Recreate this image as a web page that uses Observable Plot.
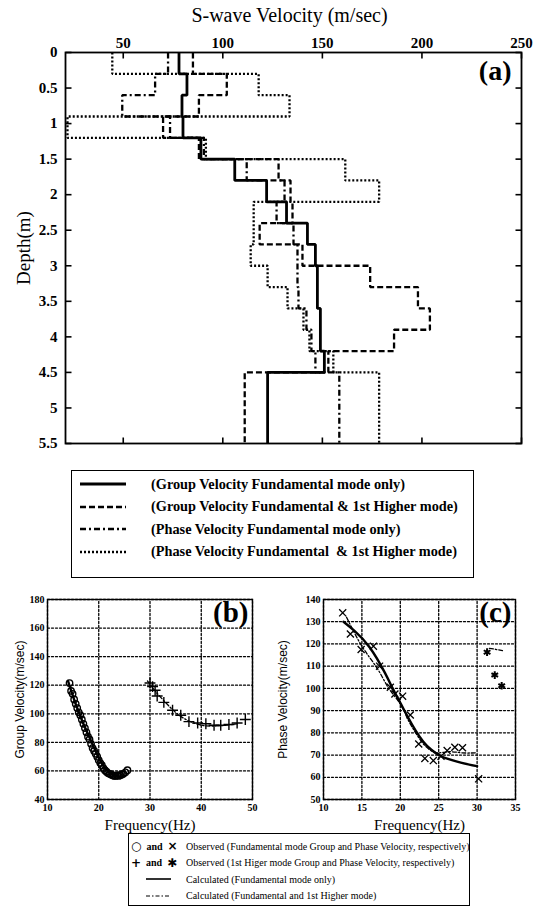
<!DOCTYPE html>
<html>
<head>
<meta charset="utf-8">
<script src="https://cdn.jsdelivr.net/npm/d3@7"></script>
<script src="https://cdn.jsdelivr.net/npm/@observablehq/plot@0.6"></script>
<style>
  body { margin: 0; background: #fff; }
  #fig { position: relative; width: 544px; height: 910px; font-family: "Liberation Serif", "DejaVu Serif", serif; color: #000; }
  #fig > * { position: absolute; }
  .box { border: 1.5px solid #000; box-sizing: border-box; background: #fff; }
  .row { position: absolute; white-space: nowrap; display: flex; align-items: center; }
</style>
</head>
<body>
<div id="fig"></div>
<script>
// ---- (a) inverted S-wave velocity profiles: 15 layers of 0.3 m over a half-space ----
const layerTops    = [0, 0.3, 0.6, 0.9, 1.2, 1.5, 1.8, 2.1, 2.4, 2.7, 3.0, 3.3, 3.6, 3.9, 4.2, 4.5];
const layerBottoms = [0.3, 0.6, 0.9, 1.2, 1.5, 1.8, 2.1, 2.4, 2.7, 3.0, 3.3, 3.6, 3.9, 4.2, 4.5, 5.5];
const vsGroupFund        = [78, 82, 79.5, 80, 89, 106, 122, 132, 142.5, 146.5, 147.5, 147.5, 149, 149, 151, 122.5];
const vsGroupFundHigher  = [85, 102, 88, 70, 88, 128, 134, 135, 118.5, 140, 174, 198, 204, 186, 153, 111];
const vsPhaseFund        = [72.5, 66, 49.5, 73.5, 90.5, 112, 131, 127, 135.5, 137.5, 137.5, 138, 142, 144.5, 146.5, 158.5];
const vsPhaseFundHigher  = [44.5, 118, 133.5, 22, 91.5, 161.5, 178.5, 115.5, 115.5, 114, 122.5, 132.5, 140.5, 143.5, 155.5, 178.5];
const velocityDomain = [21, 250];
const depthDomain = [0, 5.5];
const velocityTicks = [50, 100, 150, 200, 250];
const depthTicks = [0, 0.5, 1, 1.5, 2, 2.5, 3, 3.5, 4, 4.5, 5, 5.5];
const profileNames = [
  "(Group Velocity Fundamental mode only)",
  "(Group Velocity Fundamental & 1st Higher mode)",
  "(Phase Velocity Fundamental mode only)",
  "(Phase Velocity Fundamental  & 1st Higher mode)"
];

// ---- (b) group velocity dispersion ----
const obsGroupFundFreq = [14.3, 14.6, 14.9, 15.2, 15.5, 15.8, 16.1, 16.4, 16.7, 17.0, 17.3, 17.6, 17.9, 18.2, 18.5, 18.8, 19.1, 19.4, 19.7, 20.0, 20.3, 20.6, 20.9, 21.2, 21.5, 21.8, 22.1, 22.4, 22.7, 23.0, 23.3, 23.6, 23.9, 24.2, 24.5, 24.8, 25.2, 25.6];
const obsGroupFundVel  = [121.5, 116, 114, 110, 107, 104, 101, 99, 96, 93, 90, 87, 84, 82, 79, 76, 74, 72, 70, 67.5, 65.5, 64, 62, 60.5, 59.5, 58.5, 58, 57.5, 57, 56.5, 56.5, 57, 56.5, 57, 57.5, 58, 59, 60.5];
const obsGroupHighFreq = [30.0, 30.5, 31.0, 31.4, 32.7, 34.4, 36.0, 37.6, 39.3, 40.9, 42.5, 43.8, 45.4, 47.0, 48.6];
const obsGroupHighVel  = [121.5, 119, 116.5, 112.5, 108, 102.5, 99, 94.5, 93.5, 93, 92, 92, 92.5, 93.5, 96];
const calcGroupFundFreq = [14, 15, 16, 17, 18, 19, 20, 21, 22, 23, 24, 25];
const calcGroupFundVel  = [123, 112, 102, 93, 85, 77, 69, 63, 59, 57, 56, 56.5];
const calcGroupHighFreq = [29.5, 31, 33, 35, 37, 39, 41, 43, 45, 47];
const calcGroupHighVel  = [123, 116, 108, 101, 96, 93, 91.5, 91.5, 92, 93];
const freqDomainB = [10, 50];
const groupVelDomain = [40, 180];
const freqTicksB = [10, 20, 30, 40, 50];
const groupVelTicks = [40, 60, 80, 100, 120, 140, 160, 180];

// ---- (c) phase velocity dispersion ----
const obsPhaseFundFreq = [12.5, 13.5, 14.9, 16.5, 17.3, 18.7, 19.3, 20.3, 21.3, 22.4, 23.2, 24.3, 25.3, 26.1, 27.1, 28.1, 30.2];
const obsPhaseFundVel  = [134, 124.5, 117.5, 119, 110, 100.5, 97.5, 96.5, 88, 75, 68.5, 67.5, 69.5, 72, 73.5, 73.3, 59.3];
const obsPhaseHighFreq = [31.3, 32.3, 33.2];
const obsPhaseHighVel  = [116.3, 106, 101.2];
const calcPhaseFundFreq = [12.6, 14, 16, 18, 19, 20, 21, 22, 23, 24, 25, 26, 28, 30];
const calcPhaseFundVel  = [130, 126, 118.5, 107, 100, 93.5, 87, 81, 76, 72.5, 70, 68.5, 66.5, 65];
const calcPhaseBothFreq = [13, 15, 17, 18.5, 20, 21, 22, 23, 24, 25, 26.5, 28, 30];
const calcPhaseBothVel  = [132, 119, 109, 100, 93, 86, 80, 75, 72, 71, 71.5, 71, 71];
const calcPhaseHighFreq = [31.6, 32.4, 33.3];
const calcPhaseHighVel  = [118, 117.6, 117];
const freqDomainC = [10, 35];
const phaseVelDomain = [50, 140];
const freqTicksC = [10, 15, 20, 25, 30, 35];
const phaseVelTicks = [50, 60, 70, 80, 90, 100, 110, 120, 130, 140];

const fig = document.getElementById("fig");
const serif = "Liberation Serif";
const sans = "Liberation Sans";

// line styles of the four profiles
const styles = [
  {strokeWidth: 2.8, strokeDasharray: null},
  {strokeWidth: 2.3, strokeDasharray: "6,3"},
  {strokeWidth: 2.3, strokeDasharray: "6,3,2,3"},
  {strokeWidth: 2.3, strokeDasharray: "2,2"}
];
const profiles = [vsGroupFund, vsGroupFundHigher, vsPhaseFund, vsPhaseFundHigher];

// staircase: each layer contributes its top and bottom at the layer velocity
const steps = (vs) => vs.flatMap((v, i) => [{v, depth: layerTops[i]}, {v, depth: layerBottoms[i]}]);

// inward tick marks drawn as custom dot symbols (length in px)
const TICK = 6;
const tickSymbol = (dx, dy) => ({draw(ctx) { ctx.moveTo(0, 0); ctx.lineTo(dx * TICK, dy * TICK); }});
const tickDots = (data, x, y, dx, dy) => Plot.dot(data, {x, y, symbol: tickSymbol(dx, dy), fill: "none", stroke: "#000", strokeWidth: 1.6});

// dotted grid: one two-point line per tick value, spanning the domain
const gridStyle = {stroke: "#000", strokeWidth: 1.3, strokeDasharray: "2,2"};
const gridX = (ticks, yDomain) => Plot.line(ticks.flatMap(t => [{t, u: yDomain[0]}, {t, u: yDomain[1]}]), {x: "t", y: "u", z: "t", ...gridStyle});
const gridY = (ticks, xDomain) => Plot.line(ticks.flatMap(t => [{t, u: xDomain[0]}, {t, u: xDomain[1]}]), {x: "u", y: "t", z: "t", ...gridStyle});

// axis titles as text marks anchored on the frame
const title = (s, anchor, dx, dy, size, family, rotate = 0) =>
  Plot.text([s], {frameAnchor: anchor, dx, dy, rotate, fontSize: size, fontFamily: family, fontWeight: "normal", textAnchor: "middle", lineAnchor: "middle"});

function place(el, left, top) {
  el.style.left = left + "px";
  el.style.top = top + "px";
  fig.appendChild(el);
}

// ---------- panel (a) ----------
const plotA = Plot.plot({
  width: 544, height: 450,
  marginLeft: 65, marginRight: 23, marginTop: 52, marginBottom: 7,
  x: {domain: velocityDomain, axis: "top", ticks: velocityTicks, tickSize: 0, tickPadding: 5, label: null},
  y: {domain: depthDomain, reverse: true, ticks: depthTicks, tickSize: 0, tickPadding: 8, label: null, tickFormat: d => String(d)},
  style: {fontFamily: serif, fontSize: "15px", fontWeight: "bold", background: "white", color: "#000", overflow: "visible"},
  marks: [
    ...profiles.map((vs, i) => Plot.line(steps(vs), {x: "v", y: "depth", stroke: "#000", strokeWidth: styles[i].strokeWidth, strokeDasharray: styles[i].strokeDasharray, strokeLinejoin: "miter", strokeLinecap: "butt"})),
    tickDots(velocityTicks, d => d, () => depthDomain[0], 0, 1),
    tickDots(velocityTicks, d => d, () => depthDomain[1], 0, -1),
    tickDots(depthTicks, () => velocityDomain[0], d => d, 1, 0),
    tickDots(depthTicks, () => velocityDomain[1], d => d, -1, 0),
    Plot.frame({stroke: "#000", strokeWidth: 1.8}),
    Plot.text(["(a)"], {frameAnchor: "top-right", dx: -10, dy: 8, fontSize: 28, fontWeight: "bold", fontFamily: serif, textAnchor: "end", lineAnchor: "top"}),
    title("S-wave Velocity (m/sec)", "top", -4, -37, 20, serif),
    title("Depth(m)", "left", -42, 0, 19, serif, -90)
  ]
});
place(plotA, 0, 0);

// legend for (a)
const legA = document.createElement("div");
legA.className = "box";
legA.style.width = "403px";
legA.style.height = "108px";
place(legA, 71, 470);
profileNames.forEach((name, i) => {
  const row = document.createElement("div");
  row.className = "row";
  row.style.left = "6px";
  row.style.top = (3 + i * 22.5) + "px";
  row.style.height = "20px";
  const s = d3.create("svg").attr("width", 52).attr("height", 20);
  s.append("line").attr("x1", 2).attr("x2", 48).attr("y1", 10).attr("y2", 10)
    .attr("stroke", "#000").attr("stroke-width", styles[i].strokeWidth)
    .attr("stroke-dasharray", styles[i].strokeDasharray);
  row.appendChild(s.node());
  const t = document.createElement("span");
  t.textContent = name;
  t.style.cssText = `font:bold 14.3px '${serif}';margin-left:21px;white-space:pre;`;
  row.appendChild(t);
  legA.appendChild(row);
});

// ---------- panels (b) and (c) ----------
const smallStyle = {fontFamily: serif, fontSize: "10px", fontWeight: "bold", background: "white", color: "#000", overflow: "visible"};
const panelText = (s) => Plot.text([s], {frameAnchor: "top-right", dx: -4, dy: 2, fontSize: 29, fontWeight: "bold", fontFamily: serif, textAnchor: "end", lineAnchor: "top"});

const plotB = Plot.plot({
  width: 272, height: 262,
  marginLeft: 47, marginRight: 20, marginTop: 21, marginBottom: 41,
  x: {domain: freqDomainB, ticks: freqTicksB, tickSize: 0, tickPadding: 4, label: null},
  y: {domain: groupVelDomain, ticks: groupVelTicks, tickSize: 0, tickPadding: 3, label: null},
  style: smallStyle,
  marks: [
    gridX(freqTicksB, groupVelDomain),
    gridY(groupVelTicks, freqDomainB),
    Plot.frame({stroke: "#000", strokeWidth: 1.4}),
    Plot.line(calcGroupFundFreq, {x: calcGroupFundFreq, y: calcGroupFundVel, stroke: "#000", strokeWidth: 2.4, curve: "natural"}),
    Plot.line(calcGroupHighFreq, {x: calcGroupHighFreq, y: calcGroupHighVel, stroke: "#000", strokeWidth: 1.3, strokeDasharray: "4,2,1.5,2", curve: "natural"}),
    Plot.dot(obsGroupFundFreq, {x: obsGroupFundFreq, y: obsGroupFundVel, symbol: "circle", r: 3.2, stroke: "#000", fill: "none", strokeWidth: 1.4}),
    Plot.dot(obsGroupHighFreq, {x: obsGroupHighFreq, y: obsGroupHighVel, symbol: "plus", r: 3.6, stroke: "#000", strokeWidth: 1.4}),
    panelText("(b)"),
    title("Frequency(Hz)", "bottom", 0, 26, 15, serif),
    title("Group Velocity(m/sec)", "left", -27, 0, 12, sans, -90)
  ]
});
place(plotB, 0, 578);

const plotC = Plot.plot({
  width: 272, height: 262,
  marginLeft: 51, marginRight: 29, marginTop: 21, marginBottom: 41,
  x: {domain: freqDomainC, ticks: freqTicksC, tickSize: 0, tickPadding: 4, label: null},
  y: {domain: phaseVelDomain, ticks: phaseVelTicks, tickSize: 0, tickPadding: 3, label: null},
  style: smallStyle,
  marks: [
    gridX(freqTicksC, phaseVelDomain),
    gridY(phaseVelTicks, freqDomainC),
    Plot.frame({stroke: "#000", strokeWidth: 1.4}),
    Plot.line(calcPhaseBothFreq, {x: calcPhaseBothFreq, y: calcPhaseBothVel, stroke: "#000", strokeWidth: 1.3, strokeDasharray: "4,2,1.5,2", curve: "natural"}),
    Plot.line(calcPhaseFundFreq, {x: calcPhaseFundFreq, y: calcPhaseFundVel, stroke: "#000", strokeWidth: 2.4, curve: "natural"}),
    Plot.line(calcPhaseHighFreq, {x: calcPhaseHighFreq, y: calcPhaseHighVel, stroke: "#000", strokeWidth: 1.3, strokeDasharray: "4,2,1.5,2"}),
    Plot.dot(obsPhaseFundFreq, {x: obsPhaseFundFreq, y: obsPhaseFundVel, symbol: "times", r: 3.3, stroke: "#000", strokeWidth: 1.3}),
    Plot.dot(obsPhaseHighFreq, {x: obsPhaseHighFreq, y: obsPhaseHighVel, symbol: "asterisk", r: 3.6, stroke: "#000", strokeWidth: 2}),
    panelText("(c)"),
    title("Frequency(Hz)", "bottom", 0, 26, 15, serif),
    title("Phase Velocity(m/sec)", "left", -40, 0, 12, sans, -90)
  ]
});
place(plotC, 272, 578);

// legend for (b) and (c)
const legB = document.createElement("div");
legB.className = "box";
legB.style.width = "342px";
legB.style.height = "73px";
place(legB, 128, 833);
const legRows = [
  {sym: "○", sym2: "×", text: "Observed (Fundamental mode Group and Phase Velocity, respectively)"},
  {sym: "+", sym2: "✱", text: "Observed (1st Higer mode Group and Phase Velocity, respectively)"},
  {line: null, text: "Calculated (Fundamental mode only)"},
  {line: "4,2,1.5,2", text: "Calculated (Fundamental and 1st Higher mode)"}
];
legRows.forEach((r, i) => {
  const row = document.createElement("div");
  row.className = "row";
  row.style.left = "2px";
  row.style.top = (5 + i * 16.5) + "px";
  row.style.height = "14px";
  row.style.font = `10px '${serif}'`;
  const lead = document.createElement("div");
  lead.style.cssText = "width:55px;display:flex;align-items:center;";
  if (r.sym) {
    lead.innerHTML = `<span style="font:bold 12px 'DejaVu Sans',sans-serif">${r.sym}</span><span style="margin:0 5px 0 5px;font:bold 10px '${serif}'">and</span><span style="font:bold 12px 'DejaVu Sans',sans-serif">${r.sym2}</span>`;
  } else {
    const s = d3.create("svg").attr("width", 55).attr("height", 14);
    s.append("line").attr("x1", 15).attr("x2", 40).attr("y1", 7).attr("y2", 7)
      .attr("stroke", "#000").attr("stroke-width", r.line ? 1.2 : 1.6)
      .attr("stroke-dasharray", r.line);
    lead.appendChild(s.node());
  }
  row.appendChild(lead);
  const t = document.createElement("span");
  t.textContent = r.text;
  row.appendChild(t);
  legB.appendChild(row);
});
</script>
</body>
</html>
